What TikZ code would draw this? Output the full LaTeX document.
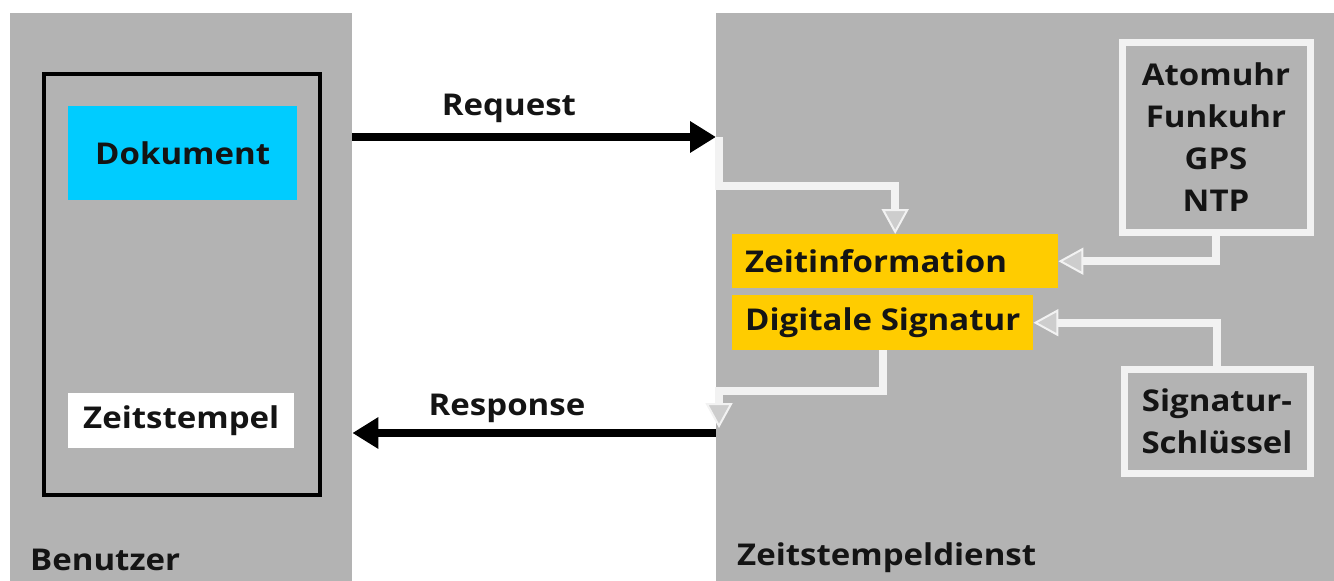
\documentclass[tikz,border=0pt]{standalone}
\usepackage{fontspec}
\setmainfont{Open Sans}[FakeStretch=1.1]
\usetikzlibrary{arrows.meta}
\definecolor{panel}{RGB}{179,179,179}
\definecolor{docblue}{RGB}{0,204,255}
\definecolor{tsyellow}{RGB}{255,204,0}
\definecolor{wline}{RGB}{242,242,242}
\definecolor{ahfill}{RGB}{205,205,205}
\definecolor{ink}{RGB}{20,20,20}
\begin{document}
\begin{tikzpicture}[x=1pt,y=-1pt,
  txt/.style={font=\fontsize{30}{42}\selectfont\bfseries, text=ink},
  panelbox/.style={fill=panel, draw=none, anchor=north west, inner sep=0pt},
  plainbox/.style={txt, anchor=north west, inner sep=0pt, align=center},
  srcbox/.style={plainbox, draw=wline, line width=7pt},
  ybox/.style={txt, fill=tsyellow, anchor=north west, inner xsep=13pt, inner ysep=0pt},
  blackarrow/.style={draw=black, line width=8pt, -{Triangle[length=26pt,width=30pt]}},
  warrow/.style={draw=wline, line width=8pt, -{Triangle[length=25pt,width=27pt,fill=ahfill,line width=2pt]}}
]
\useasboundingbox (0,0) rectangle (1334,581);
% panels
\node[panelbox, minimum width=342pt, minimum height=568pt] (user) at (10,13) {};
\node[panelbox, minimum width=620pt, minimum height=568pt] (svc) at (716,13) {};
% user side
\node[draw=black, line width=4pt, anchor=north west, minimum width=276pt, minimum height=421pt, inner sep=0pt] (frame) at (42,72) {};
\node[plainbox, fill=docblue, minimum width=229pt, minimum height=94pt] (doc) at (68,106) {Dokument};
\node[plainbox, fill=white, minimum width=226pt, minimum height=55pt] (stamp) at (68,393) {Zeitstempel};
\node[txt, anchor=base west, inner sep=0pt] (benutzer) at (30,570) {Benutzer};
% service side
\node[ybox, minimum height=54pt] (zeit) at (732,234) {\makebox[300pt][l]{Zeitinformation}};
\node[ybox, minimum height=55pt] (sig) at (732,295) {\makebox[275pt][l]{Digitale Signatur}};
\node[srcbox, minimum width=188pt, minimum height=190pt] (atom) at (1118.5,38.5) {Atomuhr\\Funkuhr\\GPS\\NTP};
\node[srcbox, minimum width=186pt, minimum height=104pt] (skey) at (1120.5,365.5) {Signatur-\\Schlüssel};
\node[txt, anchor=base west, inner sep=0pt] (dienst) at (737,565) {Zeitstempeldienst};
% coordinates for connector heights
\coordinate (reqy) at (0,137);
\coordinate (resy) at (0,433);
\coordinate (ka) at (0,186);
\coordinate (kb) at (0,391);
% request / response
\draw[blackarrow] (user.east |- reqy) -- (svc.west |- reqy);
\draw[blackarrow] (svc.west |- resy) -- (user.east |- resy);
\node[txt, anchor=base, inner sep=0pt] (req) at (509,115) {Request};
\node[txt, anchor=base, inner sep=0pt] (res) at (507,415) {Response};
% white connectors
\draw[warrow] ([xshift=3pt]svc.west |- reqy) |- (ka -| zeit.north) -- (zeit.north);
\draw[warrow] (sig.south) |- ([xshift=3pt]svc.west |- kb) -- ([xshift=3pt,yshift=5pt]svc.west |- resy);
\draw[warrow] (atom.south) |- (zeit.east);
\draw[warrow] (skey.north) |- (sig.east);
\end{tikzpicture}
\end{document}
